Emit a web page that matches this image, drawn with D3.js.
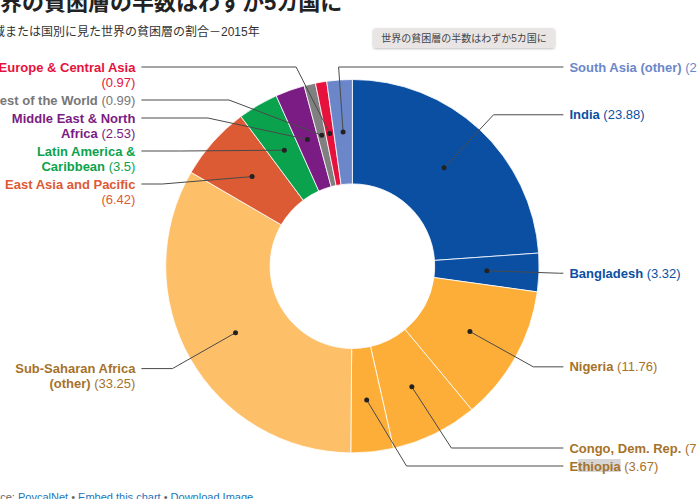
<!DOCTYPE html>
<html>
<head>
<meta charset="utf-8">
<script src="https://cdn.jsdelivr.net/npm/d3@7"></script>
<style>
  body { margin: 0; background: #fff; }
  svg { display: block; font-family: "Liberation Sans", Arial, "Noto Sans CJK JP", sans-serif; }
</style>
</head>
<body>
<div id="chart"></div>
<script>
const regions = ["India", "Bangladesh", "Nigeria", "Congo, Dem. Rep.", "Ethiopia",
    "Sub-Saharan Africa (other)", "East Asia and Pacific", "Latin America & Caribbean",
    "Middle East & North Africa", "Rest of the World", "Europe & Central Asia", "South Asia (other)"]
const shares = [23.88, 3.32, 11.76, 7.51, 3.67, 33.25, 6.42, 3.5, 2.53, 0.99, 0.97, 2.2]

const titleText = "世界の貧困層の半数はわずか5カ国に"
const subtitleText = "地域または国別に見た世界の貧困層の割合－2015年"

const width = 697
const height = 499
const cx = 352.4
const cy = 266.2
const outerR = 186.7
const innerR = 82.3
const elbowR = 207
const lineH = 15

const fill = d3.scaleOrdinal()
    .domain(regions)
    .range(["#0b4fa3", "#0b4fa3", "#fcae38", "#fcae38", "#fcae38", "#fdbf68",
        "#dc5a34", "#0ba24d", "#7a1c83", "#808080", "#e6113c", "#6b87c9"])

const textColor = d3.scaleOrdinal()
    .domain(regions)
    .range(["#0b4fa3", "#0b4fa3", "#a6722a", "#a6722a", "#a6722a", "#a6722a",
        "#dc5a34", "#0ba24d", "#7a1c83", "#777777", "#e6113c", "#6b87c9"])

const svg = d3.select("#chart").append("svg")
    .attr("width", width)
    .attr("height", height)

// heading
svg.append("text")
    .attr("x", -22).attr("y", 10)
    .attr("font-size", 22).attr("font-weight", "bold")
    .attr("fill", "#222")
    .text(titleText)

svg.append("text")
    .attr("x", -19).attr("y", 36)
    .attr("font-size", 12)
    .attr("fill", "#333")
    .text(subtitleText)

// floating note box
const note = svg.append("g")
const defs = svg.append("defs")
const shadow = defs.append("filter").attr("id", "shadow").attr("x", -0.1).attr("y", -0.3).attr("width", 1.2).attr("height", 1.8)
shadow.append("feDropShadow").attr("dx", 0).attr("dy", 1).attr("stdDeviation", 1.2).attr("flood-color", "#000").attr("flood-opacity", 0.25)
note.append("rect")
    .attr("x", 373).attr("y", 28).attr("width", 182).attr("height", 20).attr("rx", 3)
    .attr("fill", "#e9e5e5")
    .attr("filter", "url(#shadow)")
note.append("text")
    .attr("x", 464).attr("y", 38).attr("dy", "0.35em")
    .attr("text-anchor", "middle")
    .attr("font-size", 10).attr("fill", "#444")
    .text(titleText)

// donut
const pie = d3.pie().sort(null).value(d => d)
const arcs = pie(shares)
const arc = d3.arc().innerRadius(innerR).outerRadius(outerR)

const donut = svg.append("g").attr("transform", `translate(${cx},${cy})`)
donut.selectAll("path")
    .data(arcs)
    .join("path")
    .attr("d", arc)
    .attr("fill", (d, i) => fill(regions[i]))
    .attr("stroke", "#fff")
    .attr("stroke-width", 0.8)

// label text measuring
const tmp = svg.append("text").attr("font-size", 13).attr("visibility", "hidden")
function lineWidth(tokens) {
    tmp.selectAll("tspan").remove()
    tokens.forEach((t, j) => {
        tmp.append("tspan")
            .attr("font-weight", t.bold ? "bold" : "normal")
            .text((j > 0 ? " " : "") + t.w)
    })
    return tmp.node().getComputedTextLength()
}

function wrapLabel(name, value, maxW) {
    const tokens = name.split(" ").map(w => ({ w: w, bold: true }))
    tokens.push({ w: "(" + value + ")", bold: false })
    let lines = []
    let cur = []
    tokens.forEach(t => {
        const test = cur.concat([t])
        if (cur.length && lineWidth(test) > maxW) {
            lines.push(cur)
            cur = [t]
        } else {
            cur = test
        }
    })
    lines.push(cur)
    return lines
}

let labels = arcs.map((a, i) => {
    const mid = (a.startAngle + a.endAngle) / 2
    const right = mid < Math.PI || mid > 2 * Math.PI - 0.12
    return {
        i: i,
        mid: mid,
        right: right,
        natural: cy - elbowR * Math.cos(mid),
        lines: wrapLabel(regions[i], shares[i], right ? 190 : 150)
    }
})
tmp.remove()

// stack labels on each side so they do not overlap
const topY = 67
const bottomY = 466
;[true, false].forEach(side => {
    const group = labels.filter(l => l.right === side).sort((a, b) => a.natural - b.natural)
    group.forEach((l, k) => {
        l.y = Math.max(l.natural, topY)
        if (k > 0) {
            const p = group[k - 1]
            l.y = Math.max(l.y, p.y + p.lines.length * lineH + 3)
        }
    })
    for (let k = group.length - 1; k >= 0; k--) {
        const l = group[k]
        if (k === group.length - 1) {
            l.y = Math.min(l.y, bottomY - (l.lines.length - 1) * lineH)
        } else {
            l.y = Math.min(l.y, group[k + 1].y - l.lines.length * lineH - 3)
        }
    }
})

// connectors
const connectors = svg.append("g")
labels.forEach(l => {
    const c = arc.centroid(arcs[l.i])
    const px = cx + c[0]
    const py = cy + c[1]
    const sign = l.right ? 1 : -1
    const centroidSign = Math.sin(l.mid) >= 0 ? 1 : -1
    const dy = l.y - cy
    let ex
    if (sign === centroidSign) {
        ex = cx + sign * Math.sqrt(Math.max(0, elbowR * elbowR - dy * dy))
    } else {
        ex = cx + (cy - l.y) * Math.tan(l.mid)
    }
    connectors.append("path")
        .attr("d", d3.line()([[px, py], [ex, l.y], [cx + sign * 211, l.y]]))
        .attr("fill", "none")
        .attr("stroke", "#4a4a4a")
        .attr("stroke-width", 1)
    connectors.append("circle")
        .attr("cx", px).attr("cy", py).attr("r", 2.5)
        .attr("fill", "#222")
})

// labels
const labelLayer = svg.append("g").attr("font-size", 13)
labels.forEach(l => {
    const sign = l.right ? 1 : -1
    l.lines.forEach((tokens, j) => {
        const t = labelLayer.append("text")
            .attr("x", cx + sign * 217)
            .attr("y", l.y + j * lineH)
            .attr("dy", "0.35em")
            .attr("text-anchor", l.right ? "start" : "end")
            .attr("fill", textColor(regions[l.i]))
        tokens.forEach((tk, k) => {
            t.append("tspan")
                .attr("font-weight", tk.bold ? "bold" : "normal")
                .text((k > 0 ? " " : "") + tk.w)
        })
        // the reference shows part of "Ethiopia" selected
        if (regions[l.i] === "Ethiopia" && j === 0) {
            const node = t.node()
            const a = node.getExtentOfChar(1)
            const b = node.getExtentOfChar(7)
            labelLayer.insert("rect", "text")
                .attr("x", a.x).attr("y", l.y - 7)
                .attr("width", b.x + b.width - a.x).attr("height", 13)
                .attr("fill", "#d6d6d6")
        }
    })
})

// footer
const foot = svg.append("text")
    .attr("x", -23).attr("y", 501)
    .attr("font-size", 11)
    .attr("fill", "#666")
foot.append("tspan").text("Source: ")
foot.append("tspan").attr("fill", "#1b75bb").text("PovcalNet")
foot.append("tspan").text(" • ")
foot.append("tspan").attr("fill", "#1b75bb").text("Embed this chart")
foot.append("tspan").text(" • ")
foot.append("tspan").attr("fill", "#1b75bb").text("Download Image")
</script>
</body>
</html>
